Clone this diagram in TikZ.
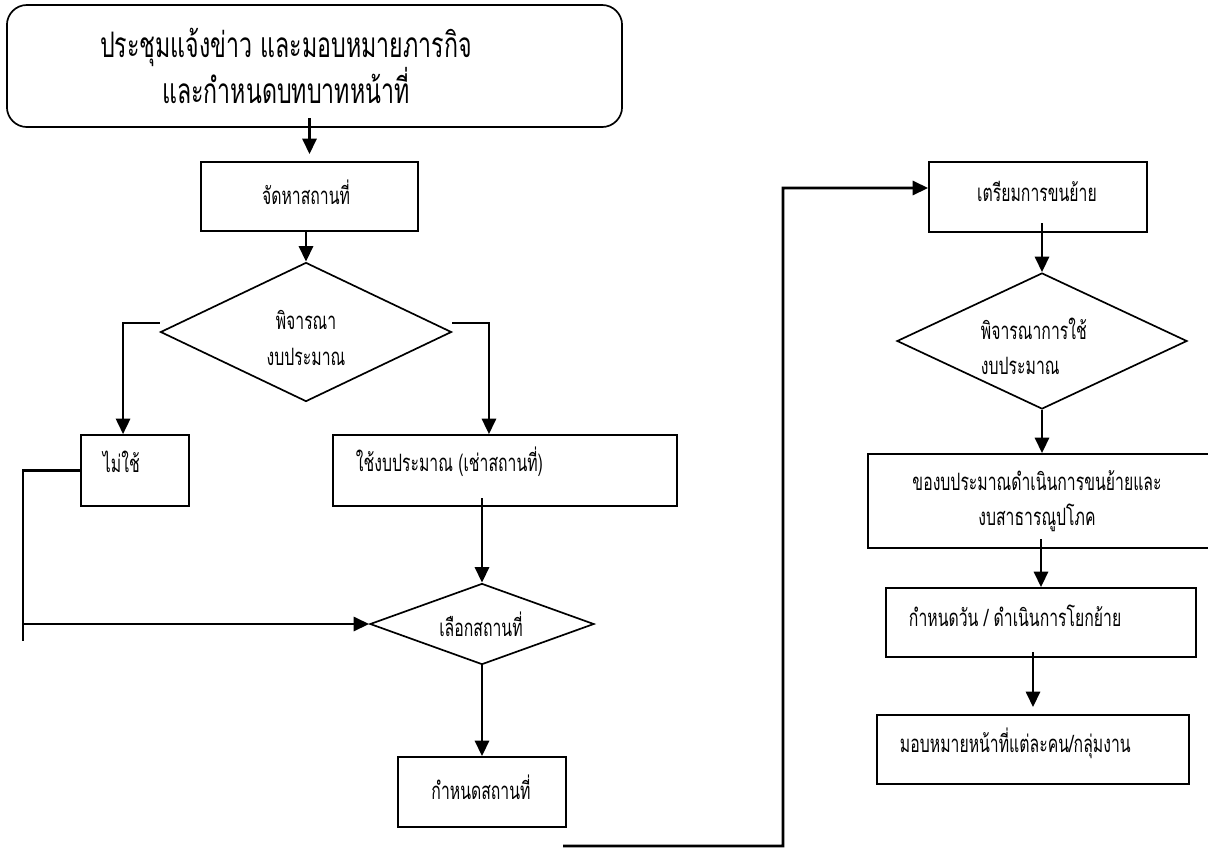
\documentclass[tikz,border=0pt]{standalone}
\usepackage{fontspec}
\setmainfont{Loma}[Script=Thai, FakeStretch=0.66]
\usepackage{tikz}
\usetikzlibrary{positioning,shapes.geometric,arrows.meta}

\tikzset{
  box/.style={draw, line width=1.2pt, inner sep=0pt},
  dia/.style={draw, diamond, line width=1.2pt, inner sep=0pt},
  arr/.style={line width=1.9pt, -{Triangle[width=10pt,length=11pt]}},
  ln/.style={line width=1.9pt},
  big/.style={font=\fontsize{25}{33}\selectfont, align=center},
  txt/.style={font=\fontsize{17}{25}\selectfont, align=center},
}

\begin{document}
\begin{tikzpicture}[x=0.025cm, y=-0.025cm]
\useasboundingbox (0,0) rectangle (1208,850);

% left column
\node[box, rounded corners=0.5cm, minimum width=15.375cm, minimum height=3.05cm](brief) at (314.5,66) {};
\node[big](briefT) at (286,66) {ประชุมแจ้งข่าว และมอบหมายภารกิจ\\และกำหนดบทบาทหน้าที่};

\node[box, minimum width=5.425cm, minimum height=1.725cm](find) at (309.5,196.5) {};
\node[txt](findT) at (306,192) {จัดหาสถานที่};

\node[dia, minimum width=7.275cm, minimum height=3.475cm](budget) at (306,332) {};
\node[txt](budgetT) at (306,338) {พิจารณา\\งบประมาณ};

\node[box, minimum width=2.7cm, minimum height=1.775cm](no) at (135,470.5) {};
\node[txt, anchor=west](noT) at (98,462) {ไม่ใช้};

\node[box, minimum width=8.6cm, minimum height=1.775cm](yes) at (505,470.5) {};
\node[txt, anchor=west](yesT) at (351,462) {ใช้งบประมาณ (เช่าสถานที่)};

\node[dia, minimum width=5.6cm, minimum height=2.025cm](choose) at (482,624) {};
\node[txt](chooseT) at (481,624) {เลือกสถานที่};

\node[box, minimum width=4.2cm, minimum height=1.75cm](fix) at (482,792) {};
\node[txt](fixT) at (481,787) {กำหนดสถานที่};

% right column
\node[box, minimum width=5.45cm, minimum height=1.75cm](prep) at (1038,197) {};
\node[txt](prepT) at (1037,191) {เตรียมการขนย้าย};

\node[dia, minimum width=7.25cm, minimum height=3.4cm](use) at (1042,341) {};
\node[txt, align=left, anchor=west](useT) at (976,346) {พิจารณาการใช้\\งบประมาณ};

\node[box, minimum width=8.6cm, minimum height=2.35cm](req) at (1040,501) {};
\node[txt](reqT) at (1037,501) {ของบประมาณดำเนินการขนย้ายและ\\งบสาธารณูปโภค};

\node[box, minimum width=7.75cm, minimum height=1.725cm](date) at (1041,622.5) {};
\node[txt, anchor=west](dateT) at (904,616) {กำหนดวัน / ดำเนินการโยกย้าย};

\node[box, minimum width=7.8cm, minimum height=1.725cm](assign) at (1033,749.5) {};
\node[txt, anchor=west](assignT) at (895,743) {มอบหมายหน้าที่แต่ละคน/กลุ่มงาน};

\coordinate(noL) at (23,641);
\coordinate(noJ) at (23,624);
\coordinate(fixR) at (563,846);
\coordinate(upT) at (783,188);

% connectors
\draw[arr, shorten >=5pt] ([yshift=7pt]brief.south -| find.north) -- (find.north);
\draw[arr] (budget.north |- find.south) -- (budget.north);
\draw[arr] ([yshift=6.4pt]budget.west) -| ([xshift=-8.5pt]no.north);
\draw[arr] ([yshift=6.4pt]budget.east) -| ([xshift=-11.4pt]yes.north);
\draw[ln] (no.west) -| (noL);
\draw[arr] (noJ) -- (choose.west);
\draw[arr] ([yshift=6pt]yes.south -| choose.north) -- (choose.north);
\draw[arr] (choose.south) -- (fix.north -| choose.south);
\draw[arr] (fixR) -| (upT) -- ([yshift=6.4pt]prep.west);

\draw[arr] ([yshift=7pt]use.north |- prep.south) -- (use.north);
\draw[arr] (use.south) -- (req.north -| use.south);
\draw[arr] ([yshift=7pt]req.south -| date.north) -- (date.north);
\draw[arr, shorten >=5pt] ([yshift=4pt]date.south -| assign.north) -- (assign.north);

\end{tikzpicture}
\end{document}
